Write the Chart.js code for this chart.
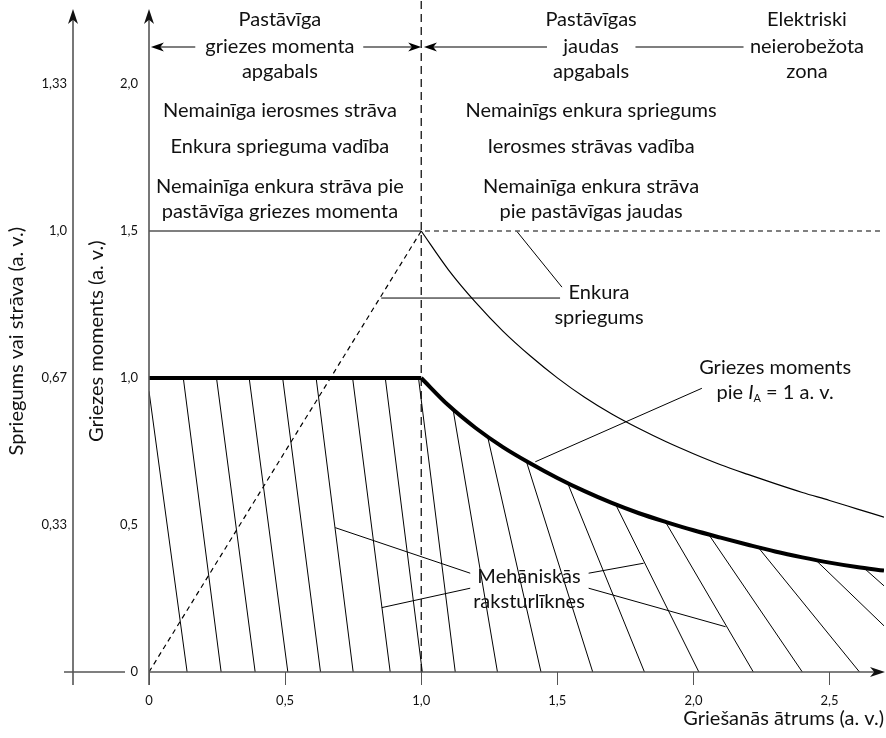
<!DOCTYPE html>
<html><head><meta charset="utf-8">
<script src="https://cdn.jsdelivr.net/npm/chart.js@4.4.1/dist/chart.umd.min.js"></script>
<style>html,body{margin:0;padding:0;background:#fff}#wrap{width:886px;height:738px}</style>
</head><body><div id="wrap"><canvas id="c" width="886" height="738"></canvas></div>
<script>
// ---- data ----
const xTicks = [0, 0.5, 1.0, 1.5, 2.0, 2.5];
const xTickLabels = ['0', '0,5', '1,0', '1,5', '2,0', '2,5'];
const torqueTicks = [0, 0.5, 1.0, 1.5, 2.0];
const torqueTickLabels = ['0', '0,5', '1,0', '1,5', '2,0'];
const voltTicks = [0.3333, 0.6667, 1.0, 1.3333];
const voltTickLabels = ['0,33', '0,67', '1,0', '1,33'];

// torque at I_A = 1 p.u. (thick)
const torqueFlatX = [0, 1.0];
const torqueFlatY = [1.0, 1.0];
const torqueCurveX = [1.0, 1.1, 1.2, 1.3, 1.4, 1.5, 1.6, 1.7, 1.8, 1.9, 2.0, 2.1, 2.2, 2.3, 2.4, 2.5, 2.6, 2.7];
const torqueCurveY = [1.0, 0.907, 0.83, 0.765, 0.71, 0.66, 0.615, 0.575, 0.54, 0.51, 0.482, 0.457, 0.433, 0.41, 0.39, 0.372, 0.357, 0.345];

// field current (thin solid), voltage/current axis
const fieldFlatX = [0, 1.0];
const fieldFlatY = [1.0, 1.0];
const fieldCurveX = [1.0, 1.1, 1.2, 1.3, 1.4, 1.5, 1.6, 1.7, 1.8, 1.9, 2.0, 2.1, 2.2, 2.3, 2.4, 2.5, 2.6, 2.7];
const fieldCurveY = [1.0, 0.912, 0.838, 0.773, 0.717, 0.667, 0.623, 0.585, 0.552, 0.522, 0.495, 0.47, 0.448, 0.427, 0.407, 0.389, 0.37, 0.351];

// armature voltage (dashed), voltage/current axis
const armVoltX = [0, 1.0, 2.7];
const armVoltY = [0, 1.0, 1.0];

// base speed boundary
const baseSpeed = 1.0;

// mechanical characteristics (hatch lines): start on torque limit, end point
const mechStartX = [0, 0.126, 0.248, 0.368, 0.491, 0.614, 0.748, 0.868, 0.990, 1.117, 1.244, 1.386, 1.539, 1.713, 1.897, 2.056, 2.238, 2.449, 2.626];
const mechStartY = [0.955, 1, 1, 1, 1, 1, 1, 1, 1, 0.893, 0.80, 0.717, 0.640, 0.572, 0.511, 0.468, 0.424, 0.381, 0.354];
const mechEndX = [0.14, 0.265, 0.39, 0.51, 0.63, 0.75, 0.886, 1.004, 1.125, 1.28, 1.44, 1.63, 1.82, 2.02, 2.22, 2.40, 2.61, 2.70, 2.70];
const mechEndY = [0, 0, 0, 0, 0, 0, 0, 0, 0, 0, 0, 0, 0, 0, 0, 0, 0, 0.157, 0.293];

// ---- build ----
const pts = (xs, ys) => xs.map((x, i) => ({x: x, y: ys[i]}));
const hatch = [];
mechStartX.forEach((x, i) => {
  hatch.push({x: x, y: mechStartY[i]});
  hatch.push({x: mechEndX[i], y: mechEndY[i]});
  hatch.push({x: mechEndX[i], y: null});
});

const FONT = 'Lato, "Open Sans", sans-serif';
const TXT = '#111';
const tickFont = {family: FONT, size: 13};
const FS = 20;

function ln(ctx, x1, y1, x2, y2) { ctx.beginPath(); ctx.moveTo(x1, y1); ctx.lineTo(x2, y2); ctx.stroke(); }
function head(ctx, tx, ty, dx, dy, len, hw) {
  const px = -dy, py = dx;
  ctx.beginPath();
  ctx.moveTo(tx, ty);
  ctx.lineTo(tx - dx * len + px * hw, ty - dy * len + py * hw);
  ctx.lineTo(tx - dx * len * 0.72, ty - dy * len * 0.72);
  ctx.lineTo(tx - dx * len - px * hw, ty - dy * len - py * hw);
  ctx.closePath();
  ctx.fill();
}
function noPad(s) { s.paddingTop = 0; s.paddingBottom = 0; s.paddingLeft = 0; s.paddingRight = 0; }

const overlay = {
  id: 'overlay',
  afterDatasetsDraw(chart) {
    const ctx = chart.ctx;
    const xs = chart.scales.x, ys = chart.scales.y, y2 = chart.scales.y2;
    const X = v => xs.getPixelForValue(v), Y = v => ys.getPixelForValue(v);
    ctx.save();
    ctx.strokeStyle = '#000'; ctx.lineWidth = 1.2; ctx.setLineDash([8, 5]);
    ln(ctx, X(baseSpeed), Y(0), X(baseSpeed), 0);
    ctx.setLineDash([]);

    const x0 = X(0), yz = Y(0), xo = y2.right;
    ctx.strokeStyle = '#555'; ctx.fillStyle = '#111'; ctx.lineWidth = 1.6;
    ln(ctx, x0, yz + 13, x0, 16);
    ln(ctx, xo, yz + 13, xo, 16);
    ln(ctx, xo - 9, yz, x0 - 24, yz);
    ln(ctx, x0, yz, xs.right - 8, yz);
    head(ctx, x0, 9, 0, -1, 15, 5);
    head(ctx, xo, 9, 0, -1, 15, 5);
    head(ctx, xs.right + 1, yz, 1, 0, 15, 5);

    const ya = Y(2.126);
    ctx.strokeStyle = '#000'; ctx.fillStyle = '#000'; ctx.lineWidth = 1.1;
    ln(ctx, X(0.17), ya, X(0.03), ya); head(ctx, X(0.007), ya, -1, 0, 13, 4.5);
    ln(ctx, X(0.787), ya, X(0.97), ya); head(ctx, X(1.0), ya, 1, 0, 13, 4.5);
    ln(ctx, X(1.462), ya, X(1.04), ya); head(ctx, X(1.01), ya, -1, 0, 13, 4.5);
    ln(ctx, X(1.787), ya, X(2.184), ya);

    ctx.lineWidth = 1;
    const leaders = [
      [0.853, 1.272, 1.51, 1.272],
      [1.352, 1.498, 1.517, 1.309],
      [2.031, 0.965, 1.419, 0.715],
      [1.18, 0.336, 0.684, 0.491],
      [1.18, 0.285, 0.855, 0.219],
      [1.615, 0.336, 1.817, 0.37],
      [1.615, 0.285, 2.118, 0.154]
    ];
    leaders.forEach(l => ln(ctx, X(l[0]), Y(l[1]), X(l[2]), Y(l[3])));

    ctx.fillStyle = TXT; ctx.textAlign = 'center'; ctx.textBaseline = 'middle';
    ctx.font = FS + 'px ' + FONT;
    const texts = [
      ['Pastāvīga', 0.481, 2.218], ['griezes momenta', 0.481, 2.126], ['apgabals', 0.481, 2.041],
      ['Pastāvīgas', 1.624, 2.218], ['jaudas', 1.624, 2.126], ['apgabals', 1.624, 2.041],
      ['Elektriski', 2.417, 2.218], ['neierobežota', 2.417, 2.126], ['zona', 2.417, 2.041],
      ['Nemainīga ierosmes strāva', 0.481, 1.909], ['Enkura sprieguma vadība', 0.481, 1.786],
      ['Nemainīga enkura strāva pie', 0.481, 1.65], ['pastāvīga griezes momenta', 0.481, 1.565],
      ['Nemainīgs enkura spriegums', 1.624, 1.909], ['Ierosmes strāvas vadība', 1.624, 1.786],
      ['Nemainīga enkura strāva', 1.624, 1.65], ['pie pastāvīgas jaudas', 1.624, 1.565],
      ['Enkura', 1.653, 1.29], ['spriegums', 1.653, 1.204],
      ['Griezes moments', 2.30, 1.034],
      ['Mehāniskās', 1.396, 0.323], ['raksturlīknes', 1.396, 0.238]
    ];
    texts.forEach(t => ctx.fillText(t[0], X(t[1]), Y(t[2])));

    const cx = X(2.30), cy = Y(0.949);
    const fN = FS + 'px ' + FONT, fI = 'italic ' + FS + 'px ' + FONT, fS = '11px ' + FONT;
    const parts = [['pie ', fN, 0], ['I', fI, 0], ['A', fS, 5], [' = 1 a. v.', fN, 0]];
    let w = 0;
    parts.forEach(p => { ctx.font = p[1]; w += ctx.measureText(p[0]).width; });
    let sx = cx - w / 2;
    ctx.textAlign = 'left';
    parts.forEach(p => { ctx.font = p[1]; ctx.fillText(p[0], sx, cy + p[2]); sx += ctx.measureText(p[0]).width; });
    ctx.restore();
  }
};

const base = {pointRadius: 0, pointHoverRadius: 0, fill: false, borderColor: '#000', spanGaps: false};
new Chart(document.getElementById('c'), {
  type: 'line',
  data: {
    datasets: [
      Object.assign({}, base, {label: 'Mehāniskās raksturlīknes', data: hatch, borderWidth: 1, yAxisID: 'y'}),
      Object.assign({}, base, {label: 'Ierosmes strāva', data: pts(fieldFlatX, fieldFlatY), borderWidth: 1.2, yAxisID: 'y2'}),
      Object.assign({}, base, {label: 'Ierosmes strāva ', data: pts(fieldCurveX, fieldCurveY), borderWidth: 1.2, yAxisID: 'y2', cubicInterpolationMode: 'monotone'}),
      Object.assign({}, base, {label: 'Enkura spriegums', data: pts(armVoltX, armVoltY), borderWidth: 1.2, borderDash: [5, 4], yAxisID: 'y2'}),
      Object.assign({}, base, {label: 'Griezes moments', data: pts(torqueFlatX, torqueFlatY), borderWidth: 4, yAxisID: 'y', borderCapStyle: 'butt'}),
      Object.assign({}, base, {label: 'Griezes moments ', data: pts(torqueCurveX, torqueCurveY), borderWidth: 4, yAxisID: 'y', cubicInterpolationMode: 'monotone'})
    ]
  },
  options: {
    responsive: false, animation: false, devicePixelRatio: 1,
    layout: {autoPadding: false, padding: {top: 10.5, right: 2, left: 0, bottom: 0}},
    plugins: {legend: {display: false}, tooltip: {enabled: false}},
    scales: {
      x: {
        type: 'linear', position: 'bottom', min: 0, max: 2.7,
        afterBuildTicks: s => { s.ticks = xTicks.map(v => ({value: v})); },
        afterFit: s => { s.height = 66; noPad(s); },
        ticks: {callback: (v, i) => xTickLabels[i], font: tickFont, color: TXT, padding: 8, maxRotation: 0, autoSkip: false},
        grid: {drawOnChartArea: false, drawTicks: true, tickLength: 13, color: '#555', lineWidth: 1},
        border: {display: false},
        title: {display: true, text: 'Griešanās ātrums (a. v.)', align: 'end', color: TXT, font: {family: FONT, size: FS}, padding: {top: 0, bottom: 7}}
      },
      y: {
        type: 'linear', position: 'left', weight: 0, min: 0, max: 2.25,
        afterBuildTicks: s => { s.ticks = torqueTicks.map(v => ({value: v})); },
        afterFit: s => { s.width = 76; noPad(s); },
        ticks: {callback: (v, i) => torqueTickLabels[i], font: tickFont, color: TXT, padding: 11},
        grid: {display: false, drawTicks: false}, border: {display: false},
        title: {display: true, text: 'Griezes moments (a. v.)', color: TXT, font: {family: FONT, size: FS}, padding: {top: 12, bottom: 0}}
      },
      y2: {
        type: 'linear', position: 'left', weight: 1, min: 0, max: 1.5,
        afterBuildTicks: s => { s.ticks = voltTicks.map(v => ({value: v})); },
        afterFit: s => { s.width = 73; noPad(s); },
        ticks: {callback: (v, i) => voltTickLabels[i], font: tickFont, color: TXT, padding: 6},
        grid: {display: false, drawTicks: false}, border: {display: false},
        title: {display: true, text: 'Spriegums vai strāva (a. v.)', color: TXT, font: {family: FONT, size: FS}, padding: {top: 5, bottom: 0}}
      }
    }
  },
  plugins: [overlay]
});
</script></body></html>
